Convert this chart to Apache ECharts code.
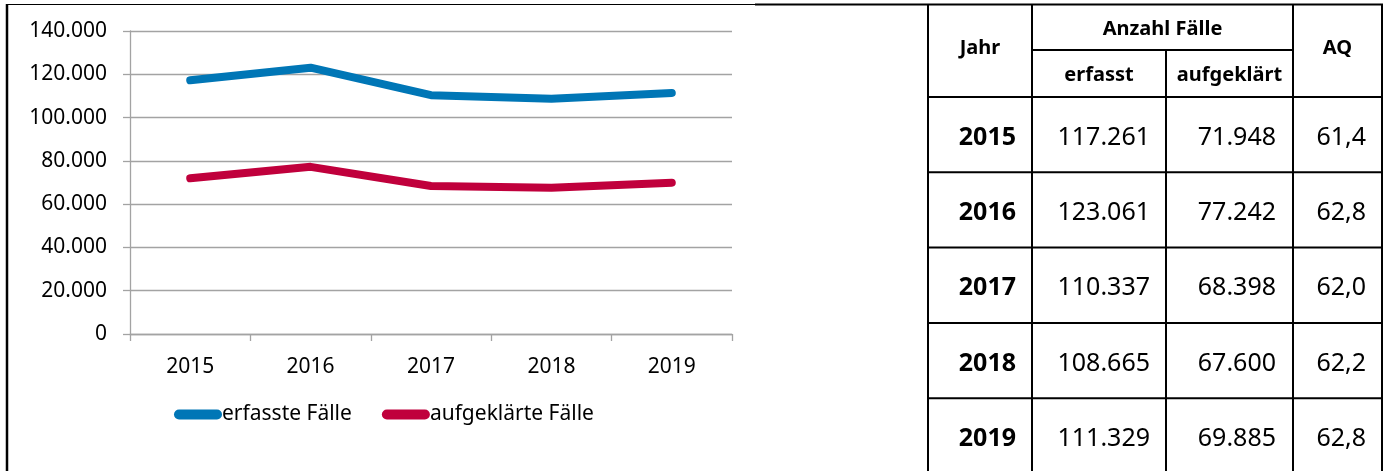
<!DOCTYPE html>
<html>
<head>
<meta charset="utf-8">
<script src="https://cdn.jsdelivr.net/npm/echarts@6/dist/echarts.min.js"></script>
<style>
html,body{margin:0;padding:0;background:#fff;}
#c{width:1387px;height:471px;}
</style>
</head>
<body>
<div id="c"></div>
<script>
var years = ['2015', '2016', '2017', '2018', '2019'];
var erfasst = [117261, 123061, 110337, 108665, 111329];
var aufgeklaert = [71948, 77242, 68398, 67600, 69885];
var aq = ['61,4', '62,8', '62,0', '62,2', '62,8'];
var seriesNames = ['erfasste Fälle', 'aufgeklärte Fälle'];
var headerTop = 'Anzahl Fälle';
var headerCols = ['Jahr', 'erfasst', 'aufgeklärt', 'AQ'];
var yTicks = [0, 20000, 40000, 60000, 80000, 100000, 120000, 140000];

function fmt(v) {
  return String(v).replace(/\B(?=(\d{3})+(?!\d))/g, '.');
}

var FONT = '"Noto Sans", "Open Sans", sans-serif';
var chart = echarts.init(document.getElementById('c'));

// table geometry
var colX = [928, 1032, 1166, 1293, 1382];
var hdrMid = 50, hdrBot = 97, rowH = 75.3, tTop = 5;
var graphics = [];
function line(x1, y1, x2, y2, w) {
  graphics.push({type: 'line', shape: {x1: x1, y1: y1, x2: x2, y2: y2},
    style: {stroke: '#000', lineWidth: w || 2}, silent: true});
}
function txt(x, y, s, align, size, bold) {
  graphics.push({type: 'text', x: x, y: y, silent: true,
    style: {text: s, fill: '#000', align: align, verticalAlign: 'middle',
      font: (bold ? 'bold ' : '') + size + 'px ' + FONT}});
}
// outer frame of chart area
line(7, 4, 7, 471, 2.5);
line(6, 4.5, 755, 4.5, 1.2);
line(755, 4.5, 1383, 4.5, 2.2);
// table grid
var tBot = hdrBot + rowH * years.length;
line(colX[0], tTop, colX[0], tBot, 2);
line(colX[1], tTop, colX[1], tBot, 2);
line(colX[2], hdrMid, colX[2], tBot, 2);
line(colX[3], tTop, colX[3], tBot, 2);
line(colX[4], tTop, colX[4], tBot, 2);
line(colX[1], hdrMid, colX[3], hdrMid, 2);
for (var r = 0; r <= years.length; r++) line(colX[0], hdrBot + rowH * r, colX[4], hdrBot + rowH * r, 2);
// headers
txt((colX[0] + colX[1]) / 2, 48, headerCols[0], 'center', 20, true);
txt((colX[1] + colX[3]) / 2, 29, headerTop, 'center', 20, true);
txt((colX[1] + colX[2]) / 2, 75, headerCols[1], 'center', 20, true);
txt((colX[2] + colX[3]) / 2, 75, headerCols[2], 'center', 20, true);
txt((colX[3] + colX[4]) / 2, 48, headerCols[3], 'center', 20, true);
// data rows
for (var k = 0; k < years.length; k++) {
  var cy = hdrBot + rowH * k + rowH / 2 + 3;
  txt(colX[1] - 16, cy, years[k], 'right', 25, true);
  txt(colX[2] - 16, cy, fmt(erfasst[k]), 'right', 25, false);
  txt(colX[3] - 17, cy, fmt(aufgeklaert[k]), 'right', 25, false);
  txt(colX[4] - 16, cy, aq[k], 'right', 25, false);
}

var legendIcon = 'path://M5,0 L43,0 A5,5 0 0 1 43,10 L5,10 A5,5 0 0 1 5,0 Z';
var gridColor = '#a3a3a3';

chart.setOption({
  animation: false,
  backgroundColor: '#fff',
  textStyle: {fontFamily: FONT},
  grid: {left: 130, right: 655, top: 31, bottom: 137, containLabel: false},
  legend: {
    left: 169, top: 399,
    icon: legendIcon,
    itemWidth: 48, itemHeight: 10, itemGap: 30,
    textStyle: {fontSize: 21, color: '#000', fontFamily: FONT, padding: [0, 0, 0, -5]},
    data: seriesNames
  },
  xAxis: {
    type: 'category', data: years, boundaryGap: true,
    axisLine: {lineStyle: {color: gridColor, width: 1.3}},
    axisTick: {show: true, length: 7, alignWithLabel: false, lineStyle: {color: gridColor, width: 1.3}},
    axisLabel: {fontSize: 21, color: '#000', margin: 23, fontFamily: FONT}
  },
  yAxis: {
    type: 'value', min: 0, max: 140000, interval: 20000,
    axisLine: {show: true, lineStyle: {color: gridColor, width: 1.3}},
    axisTick: {show: true, length: 7, lineStyle: {color: gridColor, width: 1.3}},
    splitLine: {lineStyle: {color: gridColor, width: 1.3}},
    axisLabel: {fontSize: 21, color: '#000', margin: 23, fontFamily: FONT,
      formatter: function (v) { return yTicks.indexOf(v) >= 0 ? fmt(v) : ''; }}
  },
  series: [
    {name: seriesNames[0], type: 'line', data: erfasst, showSymbol: false, symbol: 'none',
      color: '#0076b6', lineStyle: {width: 8, color: '#0076b6', cap: 'round', join: 'round'}},
    {name: seriesNames[1], type: 'line', data: aufgeklaert, showSymbol: false, symbol: 'none',
      color: '#c0003c', lineStyle: {width: 8, color: '#c0003c', cap: 'round', join: 'round'}}
  ],
  graphic: graphics
});
</script>
</body>
</html>
